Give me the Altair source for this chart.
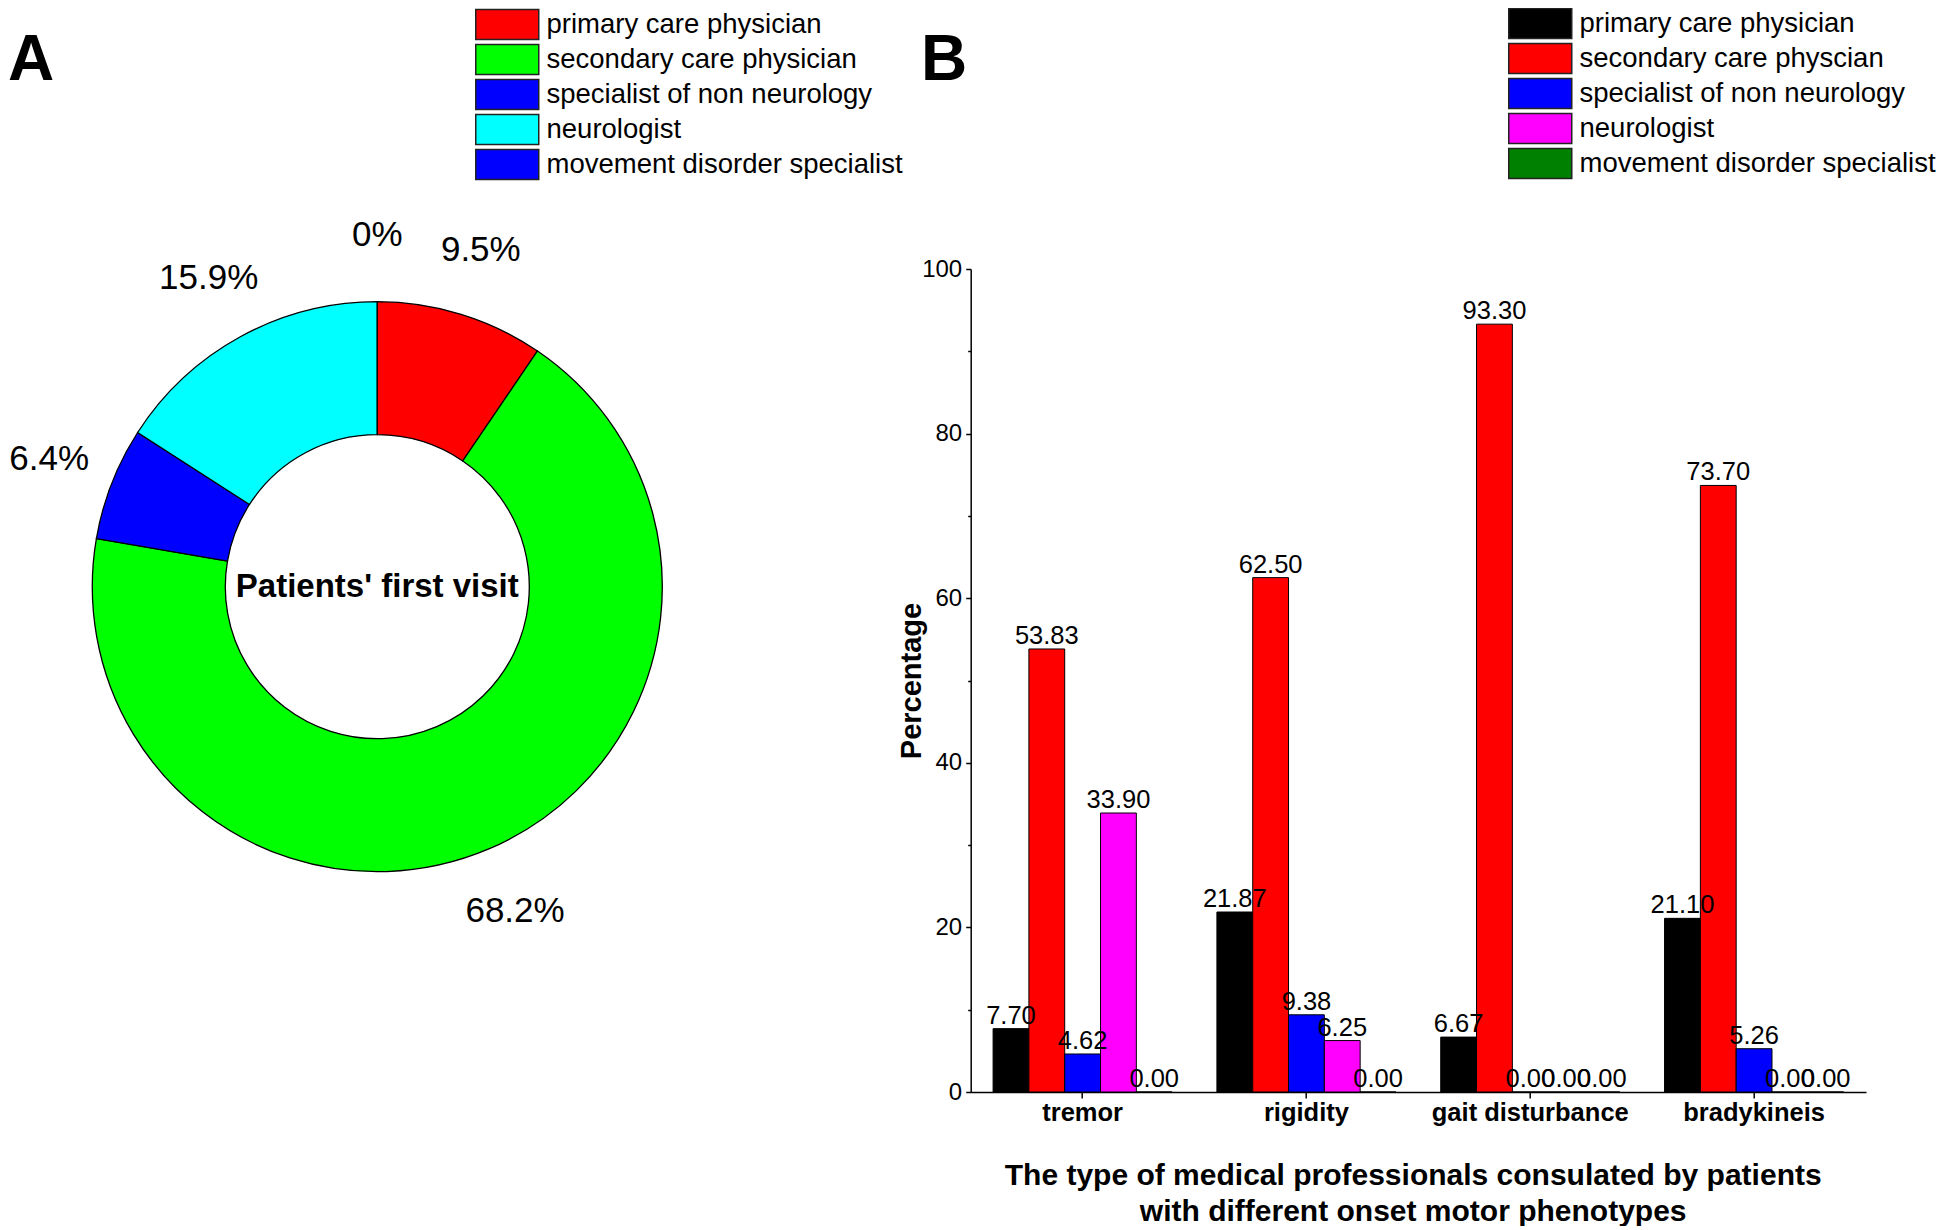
import altair as alt
import pandas as pd

# ---------------- data ----------------
pie_categories = ["primary care physician", "secondary care physician",
                  "specialist of non neurology", "neurologist",
                  "movement disorder specialist"]
pie_values = [9.5, 68.2, 6.4, 15.9, 0.0]
pie_labels = ["9.5%", "68.2%", "6.4%", "15.9%", "0%"]
pie_colors = ["#ff0000", "#00ff00", "#0000ff", "#00ffff", "#0000ff"]
center_text = ["Patients' first visit"]

phenotypes = ["tremor", "rigidity", "gait disturbance", "bradykineis"]
professionals = ["primary care physician", "secondary care physcian",
                 "specialist of non neurology", "neurologist",
                 "movement disorder specialist"]
primary_care = [7.70, 21.87, 6.67, 21.10]
secondary_care = [53.83, 62.50, 93.30, 73.70]
non_neurology = [4.62, 9.38, 0.00, 5.26]
neurologist = [33.90, 6.25, 0.00, 0.00]
movement_disorder = [0.00, 0.00, 0.00, 0.00]
bar_colors = ["#000000", "#ff0000", "#0000ff", "#ff00ff", "#008000"]
y_ticks = [0, 10, 20, 30, 40, 50, 60, 70, 80, 90, 100]
panel_letters = ["A", "B"]
x_title = ["The type of medical professionals consulated by patients",
           "with different onset motor phenotypes"]
y_title = "Percentage"

# ---------------- tables ----------------
pie_df = pd.DataFrame({"who_a": pie_categories, "pct": pie_values,
                       "lab": pie_labels, "idx": list(range(len(pie_values)))})
series = [primary_care, secondary_care, non_neurology, neurologist, movement_disorder]
rows = []
for prof, vals in zip(professionals, series):
    for ph, v in zip(phenotypes, vals):
        rows.append({"phen": ph, "who_b": prof, "val": v})
bar_df = pd.DataFrame(rows)

FONT = "Liberation Sans, Arial, sans-serif"
W, H = 895.3, 823.0
CX, CY = -593.4, 317.7      # donut centre relative to bar plot origin
RECT = "M-1,-0.95 H3 V0.95 H-1 Z"

x_axis = alt.Axis(title=x_title, titleFontSize=30, titleFontWeight="bold",
                  titleLineHeight=36, titleY=68, titleX=442,
                  labelFontSize=25.5, labelFontWeight="bold", labelPadding=2,
                  labelLimit=400, labelAngle=0, tickSize=6, tickWidth=1.5,
                  tickColor="black", domainColor="black", domainWidth=1.5,
                  labelColor="black", titleColor="black", grid=False,
                  labelFont=FONT, titleFont=FONT)
y_axis = alt.Axis(values=y_ticks,
                  labelExpr="datum.value % 20 == 0 ? datum.label : ''",
                  tickSize={"condition": {"test": "datum.value % 20 == 0", "value": 5}, "value": 3},
                  labelFontSize=24, labelPadding=4, tickWidth=1.5, tickColor="black",
                  domainColor="black", domainWidth=1.5, labelColor="black",
                  title=y_title, titleFontSize=29, titleFontWeight="bold",
                  titleX=-59, titleY=H / 2, titleBaseline="middle", titleAngle=270,
                  titleColor="black", grid=False, labelFont=FONT, titleFont=FONT)

xenc = alt.X("phen:N", sort=phenotypes,
             scale=alt.Scale(paddingInner=0.2, paddingOuter=0.1), axis=x_axis)
xoff = alt.XOffset("who_b:N", sort=professionals,
                   scale=alt.Scale(domain=professionals, paddingInner=0, paddingOuter=0))
yenc = alt.Y("val:Q", stack=None, scale=alt.Scale(domain=[0, 100], nice=False), axis=y_axis)


def make_legend(lx, ly):
    return alt.Legend(orient="none", legendX=lx, legendY=ly, title=None,
                      symbolType=RECT, symbolSize=992.25,
                      symbolStrokeColor="#222222", symbolStrokeWidth=1.5,
                      labelFontSize=27.5, labelOffset=38.5, labelLimit=900,
                      rowPadding=-2.2, padding=0, labelFont=FONT, labelColor="black")


bars = alt.Chart(bar_df).mark_bar(stroke="black", strokeWidth=1).encode(
    x=xenc, xOffset=xoff, y=yenc,
    color=alt.Color("who_b:N",
                    scale=alt.Scale(domain=professionals, range=bar_colors),
                    legend=make_legend(537.3, -262)))

bar_text = alt.Chart(bar_df).mark_text(baseline="bottom", fontSize=25.5, font=FONT,
                                       color="black").encode(
    x=xenc, xOffset=xoff, y=yenc, text=alt.Text("val:Q", format=".2f"))

arcs = alt.Chart(pie_df).mark_arc(radius=285, radius2=152, stroke="black",
                                  strokeWidth=1.3).encode(
    theta=alt.Theta("pct:Q", stack=True),
    order=alt.Order("idx:Q", sort="ascending"),
    color=alt.Color("who_a:N",
                    scale=alt.Scale(domain=pie_categories, range=pie_colors),
                    legend=make_legend(-495.7, -261)),
    x=alt.value(CX), y=alt.value(CY))

arc_text = alt.Chart(pie_df).mark_text(radius=352, fontSize=35, font=FONT,
                                       color="black", baseline="middle").encode(
    theta=alt.Theta("pct:Q", stack=True),
    order=alt.Order("idx:Q", sort="ascending"),
    text="lab:N", x=alt.value(CX), y=alt.value(CY))

center = alt.Chart(pd.DataFrame({"t": center_text})).mark_text(
    fontSize=33, fontWeight="bold", font=FONT, color="black", baseline="middle").encode(
    text="t:N", x=alt.value(CX), y=alt.value(CY))

letter_a = alt.Chart(pd.DataFrame({"t": [panel_letters[0]]})).mark_text(
    fontSize=64, fontWeight="bold", font=FONT, color="black", align="left",
    baseline="alphabetic").encode(text="t:N", x=alt.value(-962.7), y=alt.value(-189))
letter_b = alt.Chart(pd.DataFrame({"t": [panel_letters[1]]})).mark_text(
    fontSize=64, fontWeight="bold", font=FONT, color="black", align="left",
    baseline="alphabetic").encode(text="t:N", x=alt.value(-49.7), y=alt.value(-189))

chart = alt.layer(bars, bar_text, arcs, arc_text, center, letter_a, letter_b).resolve_scale(
    color="independent").properties(
    width=W, height=H,
    autosize=alt.AutoSizeParams(type="none"),
    padding={"left": 962.7, "top": 261, "right": 70, "bottom": 134},
    background="white",
).configure(font=FONT).configure_view(stroke=None)

chart.save("out.html", embed_options={"renderer": "svg", "actions": False})
